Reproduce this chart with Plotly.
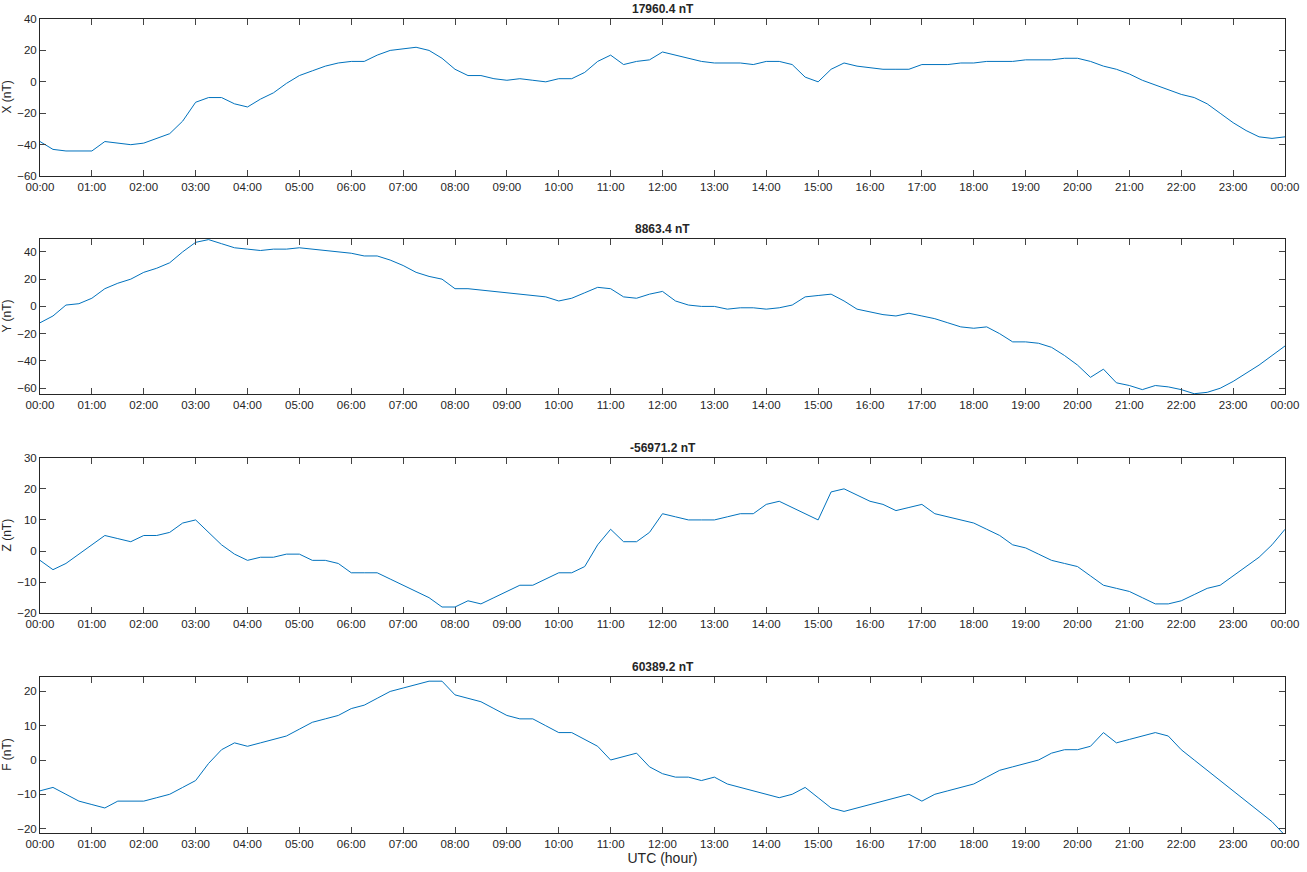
import plotly.graph_objects as go

hours = [i * 0.25 for i in range(97)]

x_vals = [-38, -43, -44, -44, -44, -38, -39, -40, -39, -36, -33, -25, -13, -10, -10, -14, -16, -11, -7, -1,
          4, 7, 10, 12, 13, 13, 17, 20, 21, 22, 20, 15, 8, 4, 4, 2, 1, 2, 1, 0,
          2, 2, 6, 13, 17, 11, 13, 14, 19, 17, 15, 13, 12, 12, 12, 11, 13, 13, 11, 3,
          0, 8, 12, 10, 9, 8, 8, 8, 11, 11, 11, 12, 12, 13, 13, 13, 14, 14, 14, 15,
          15, 13, 10, 8, 5, 1, -2, -5, -8, -10, -14, -20, -26, -31, -35, -36, -35]
y_vals = [-12, -7, 1, 2, 6, 13, 17, 20, 25, 28, 32, 40, 47, 49, 46, 43, 42, 41, 42, 42,
          43, 42, 41, 40, 39, 37, 37, 34, 30, 25, 22, 20, 13, 13, 12, 11, 10, 9, 8, 7,
          4, 6, 10, 14, 13, 7, 6, 9, 11, 4, 1, 0, 0, -2, -1, -1, -2, -1, 1, 7,
          8, 9, 4, -2, -4, -6, -7, -5, -7, -9, -12, -15, -16, -15, -20, -26, -26, -27, -30, -36,
          -43, -52, -46, -56, -58, -61, -58, -59, -61, -64, -63, -60, -55, -49, -43, -36, -29]
z_vals = [-3, -6, -4, -1, 2, 5, 4, 3, 5, 5, 6, 9, 10, 6, 2, -1, -3, -2, -2, -1,
          -1, -3, -3, -4, -7, -7, -7, -9, -11, -13, -15, -18, -18, -16, -17, -15, -13, -11, -11, -9,
          -7, -7, -5, 2, 7, 3, 3, 6, 12, 11, 10, 10, 10, 11, 12, 12, 15, 16, 14, 12,
          10, 19, 20, 18, 16, 15, 13, 14, 15, 12, 11, 10, 9, 7, 5, 2, 1, -1, -3, -4,
          -5, -8, -11, -12, -13, -15, -17, -17, -16, -14, -12, -11, -8, -5, -2, 2, 7]
f_vals = [-9, -8, -10, -12, -13, -14, -12, -12, -12, -11, -10, -8, -6, -1, 3, 5, 4, 5, 6, 7,
          9, 11, 12, 13, 15, 16, 18, 20, 21, 22, 23, 23, 19, 18, 17, 15, 13, 12, 12, 10,
          8, 8, 6, 4, 0, 1, 2, -2, -4, -5, -5, -6, -5, -7, -8, -9, -10, -11, -10, -8,
          -11, -14, -15, -14, -13, -12, -11, -10, -12, -10, -9, -8, -7, -5, -3, -2, -1, 0, 2, 3,
          3, 4, 8, 5, 6, 7, 8, 7, 3, 0, -3, -6, -9, -12, -15, -18, -22]

titles = ["17960.4 nT", "8863.4 nT", "-56971.2 nT", "60389.2 nT"]
ylabels = ["X (nT)", "Y (nT)", "Z (nT)", "F (nT)"]
ranges = [[-60, 40], [-64.4, 49.6], [-20, 30], [-21.3, 24.3]]
tick_vals_y = [list(range(-60, 41, 20)), list(range(-60, 41, 20)), list(range(-20, 31, 10)), list(range(-20, 21, 10))]
domains = [[0.807, 1.0], [0.539, 0.730], [0.270, 0.461], [0.0, 0.192]]
xticks = list(range(25))
xtext = [f"{h % 24:02d}:00" for h in xticks]

fig = go.Figure()
series = [x_vals, y_vals, z_vals, f_vals]
annotations = []
for i, vals in enumerate(series):
    n = "" if i == 0 else str(i + 1)
    fig.add_trace(go.Scatter(x=hours, y=vals, mode="lines", line=dict(color="#0072BD", width=1),
                             xaxis="x" + n, yaxis="y" + n, showlegend=False))
    ax = dict(range=[0, 24], tickvals=xticks, ticktext=xtext, ticks="inside", ticklen=6,
              showline=True, linecolor="#262626", mirror="ticks", showgrid=False, zeroline=False,
              anchor="y" + n, domain=[0, 1], automargin=False, tickfont=dict(size=11.5))
    if i == 3:
        ax["title"] = dict(text="UTC (hour)", standoff=2)
    ay = dict(range=ranges[i], tickvals=tick_vals_y[i], ticks="inside", ticklen=6,
              showline=True, linecolor="#262626", mirror="ticks", showgrid=False, zeroline=False,
              anchor="x" + n, domain=domains[i], automargin=False, tickfont=dict(size=11.5))
    fig.update_layout({"xaxis" + n: ax, "yaxis" + n: ay})
    annotations.append(dict(text="<b>" + titles[i] + "</b>", xref="paper", yref="paper", x=0.5,
                            y=domains[i][1], yanchor="bottom", yshift=2, borderpad=0,
                            showarrow=False, font=dict(size=12)))
    annotations.append(dict(text=ylabels[i], xref="paper", yref="paper", x=-0.0265,
                            y=sum(domains[i]) / 2, textangle=-90, showarrow=False,
                            xanchor="center", yanchor="middle", font=dict(size=12)))

fig.update_layout(width=1307, height=872, margin=dict(l=40, r=22, t=19, b=39),
                  plot_bgcolor="white", paper_bgcolor="white", annotations=annotations,
                  font=dict(family="Liberation Sans, Arial", size=12, color="#262626"))
fig.write_html("out.html", config={"displayModeBar": False},
               post_script="document.body.style.margin='0';")
